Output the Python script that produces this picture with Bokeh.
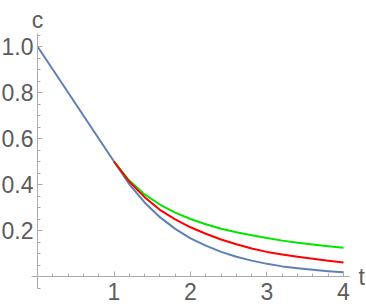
from bokeh.plotting import figure
from bokeh.models import FixedTicker, Label, Range1d
from bokeh.embed import file_html
from bokeh.resources import INLINE

# blue series: linear part then fast decay
t_blue = [0.0, 1.0, 1.2, 1.4, 1.6, 1.8, 2.0, 2.2, 2.4, 2.6, 2.8, 3.0, 3.2, 3.4, 3.6, 3.8, 4.0]
c_blue = [1.0, 0.5, 0.401, 0.322, 0.258, 0.207, 0.166, 0.134, 0.107, 0.086, 0.069, 0.055, 0.044, 0.036, 0.029, 0.023, 0.018]

# green and red series start at t = 1
t_late = [1.0, 1.2, 1.4, 1.6, 1.8, 2.0, 2.2, 2.4, 2.6, 2.8, 3.0, 3.2, 3.4, 3.6, 3.8, 4.0]
c_green = [0.5, 0.417, 0.357, 0.313, 0.278, 0.25, 0.227, 0.208, 0.192, 0.179, 0.167, 0.156, 0.147, 0.139, 0.132, 0.125]
c_red = [0.5, 0.412, 0.345, 0.290, 0.248, 0.214, 0.186, 0.161, 0.140, 0.122, 0.107, 0.096, 0.086, 0.077, 0.069, 0.061]

x_major = [1, 2, 3, 4]
x_labels = ["1", "2", "3", "4"]
x_minor = [0.2, 0.4, 0.6, 0.8, 1.2, 1.4, 1.6, 1.8, 2.2, 2.4, 2.6, 2.8, 3.2, 3.4, 3.6, 3.8]
y_major = [0.2, 0.4, 0.6, 0.8, 1.0]
y_labels = ["0.2", "0.4", "0.6", "0.8", "1.0"]
y_minor = [-0.05, 0.05, 0.1, 0.15, 0.25, 0.3, 0.35, 0.45, 0.5, 0.55, 0.65, 0.7, 0.75,
           0.85, 0.9, 0.95, 1.05]

AXIS = "#ababab"
TEXT = "#5c5c5c"
FONT = "Liberation Sans"

p = figure(width=366, height=308,
           x_range=Range1d(-0.4837, 4.3007), y_range=Range1d(-0.1391, 1.2),
           output_backend="svg", toolbar_location=None,
           min_border_left=0, min_border_right=0,
           min_border_top=0, min_border_bottom=0)
p.grid.visible = False
p.outline_line_color = None
p.background_fill_color = "white"
p.border_fill_color = "white"

p.xaxis.fixed_location = 0
p.yaxis.fixed_location = 0
p.xaxis.bounds = (-0.08, 4.08)
p.yaxis.bounds = (-0.05, 1.057)
p.xaxis.ticker = FixedTicker(ticks=x_major, minor_ticks=x_minor)
p.yaxis.ticker = FixedTicker(ticks=y_major, minor_ticks=y_minor)
p.xaxis.major_label_overrides = dict(zip(x_major, x_labels))
p.yaxis.major_label_overrides = dict(zip(y_major, y_labels))

for ax in (p.xaxis, p.yaxis):
    ax.axis_line_color = AXIS
    ax.axis_line_width = 1
    ax.major_tick_line_color = AXIS
    ax.minor_tick_line_color = AXIS
    ax.major_tick_in = 5
    ax.major_tick_out = 0
    ax.minor_tick_in = 3
    ax.minor_tick_out = 0
    ax.major_label_text_font = FONT
    ax.major_label_text_font_size = "23px"
    ax.major_label_text_color = TEXT
p.xaxis.major_label_standoff = 6
p.yaxis.major_label_standoff = 4

p.line(t_blue, c_blue, line_color="#5E81B5", line_width=2, line_join="round")
p.line(t_late, c_green, line_color="#00e600", line_width=2, line_join="round")
p.line(t_late, c_red, line_color="#ff0000", line_width=2, line_join="round")

p.add_layout(Label(x=0, y=1.057, text="c", text_align="center", text_baseline="alphabetic",
                   y_offset=13, text_font=FONT, text_font_size="23px", text_color=TEXT))
p.add_layout(Label(x=4.08, y=0, text="t", text_align="left", text_baseline="middle",
                   x_offset=9, text_font=FONT, text_font_size="23px", text_color=TEXT))

open("out.html", "w").write(file_html(p, INLINE))
